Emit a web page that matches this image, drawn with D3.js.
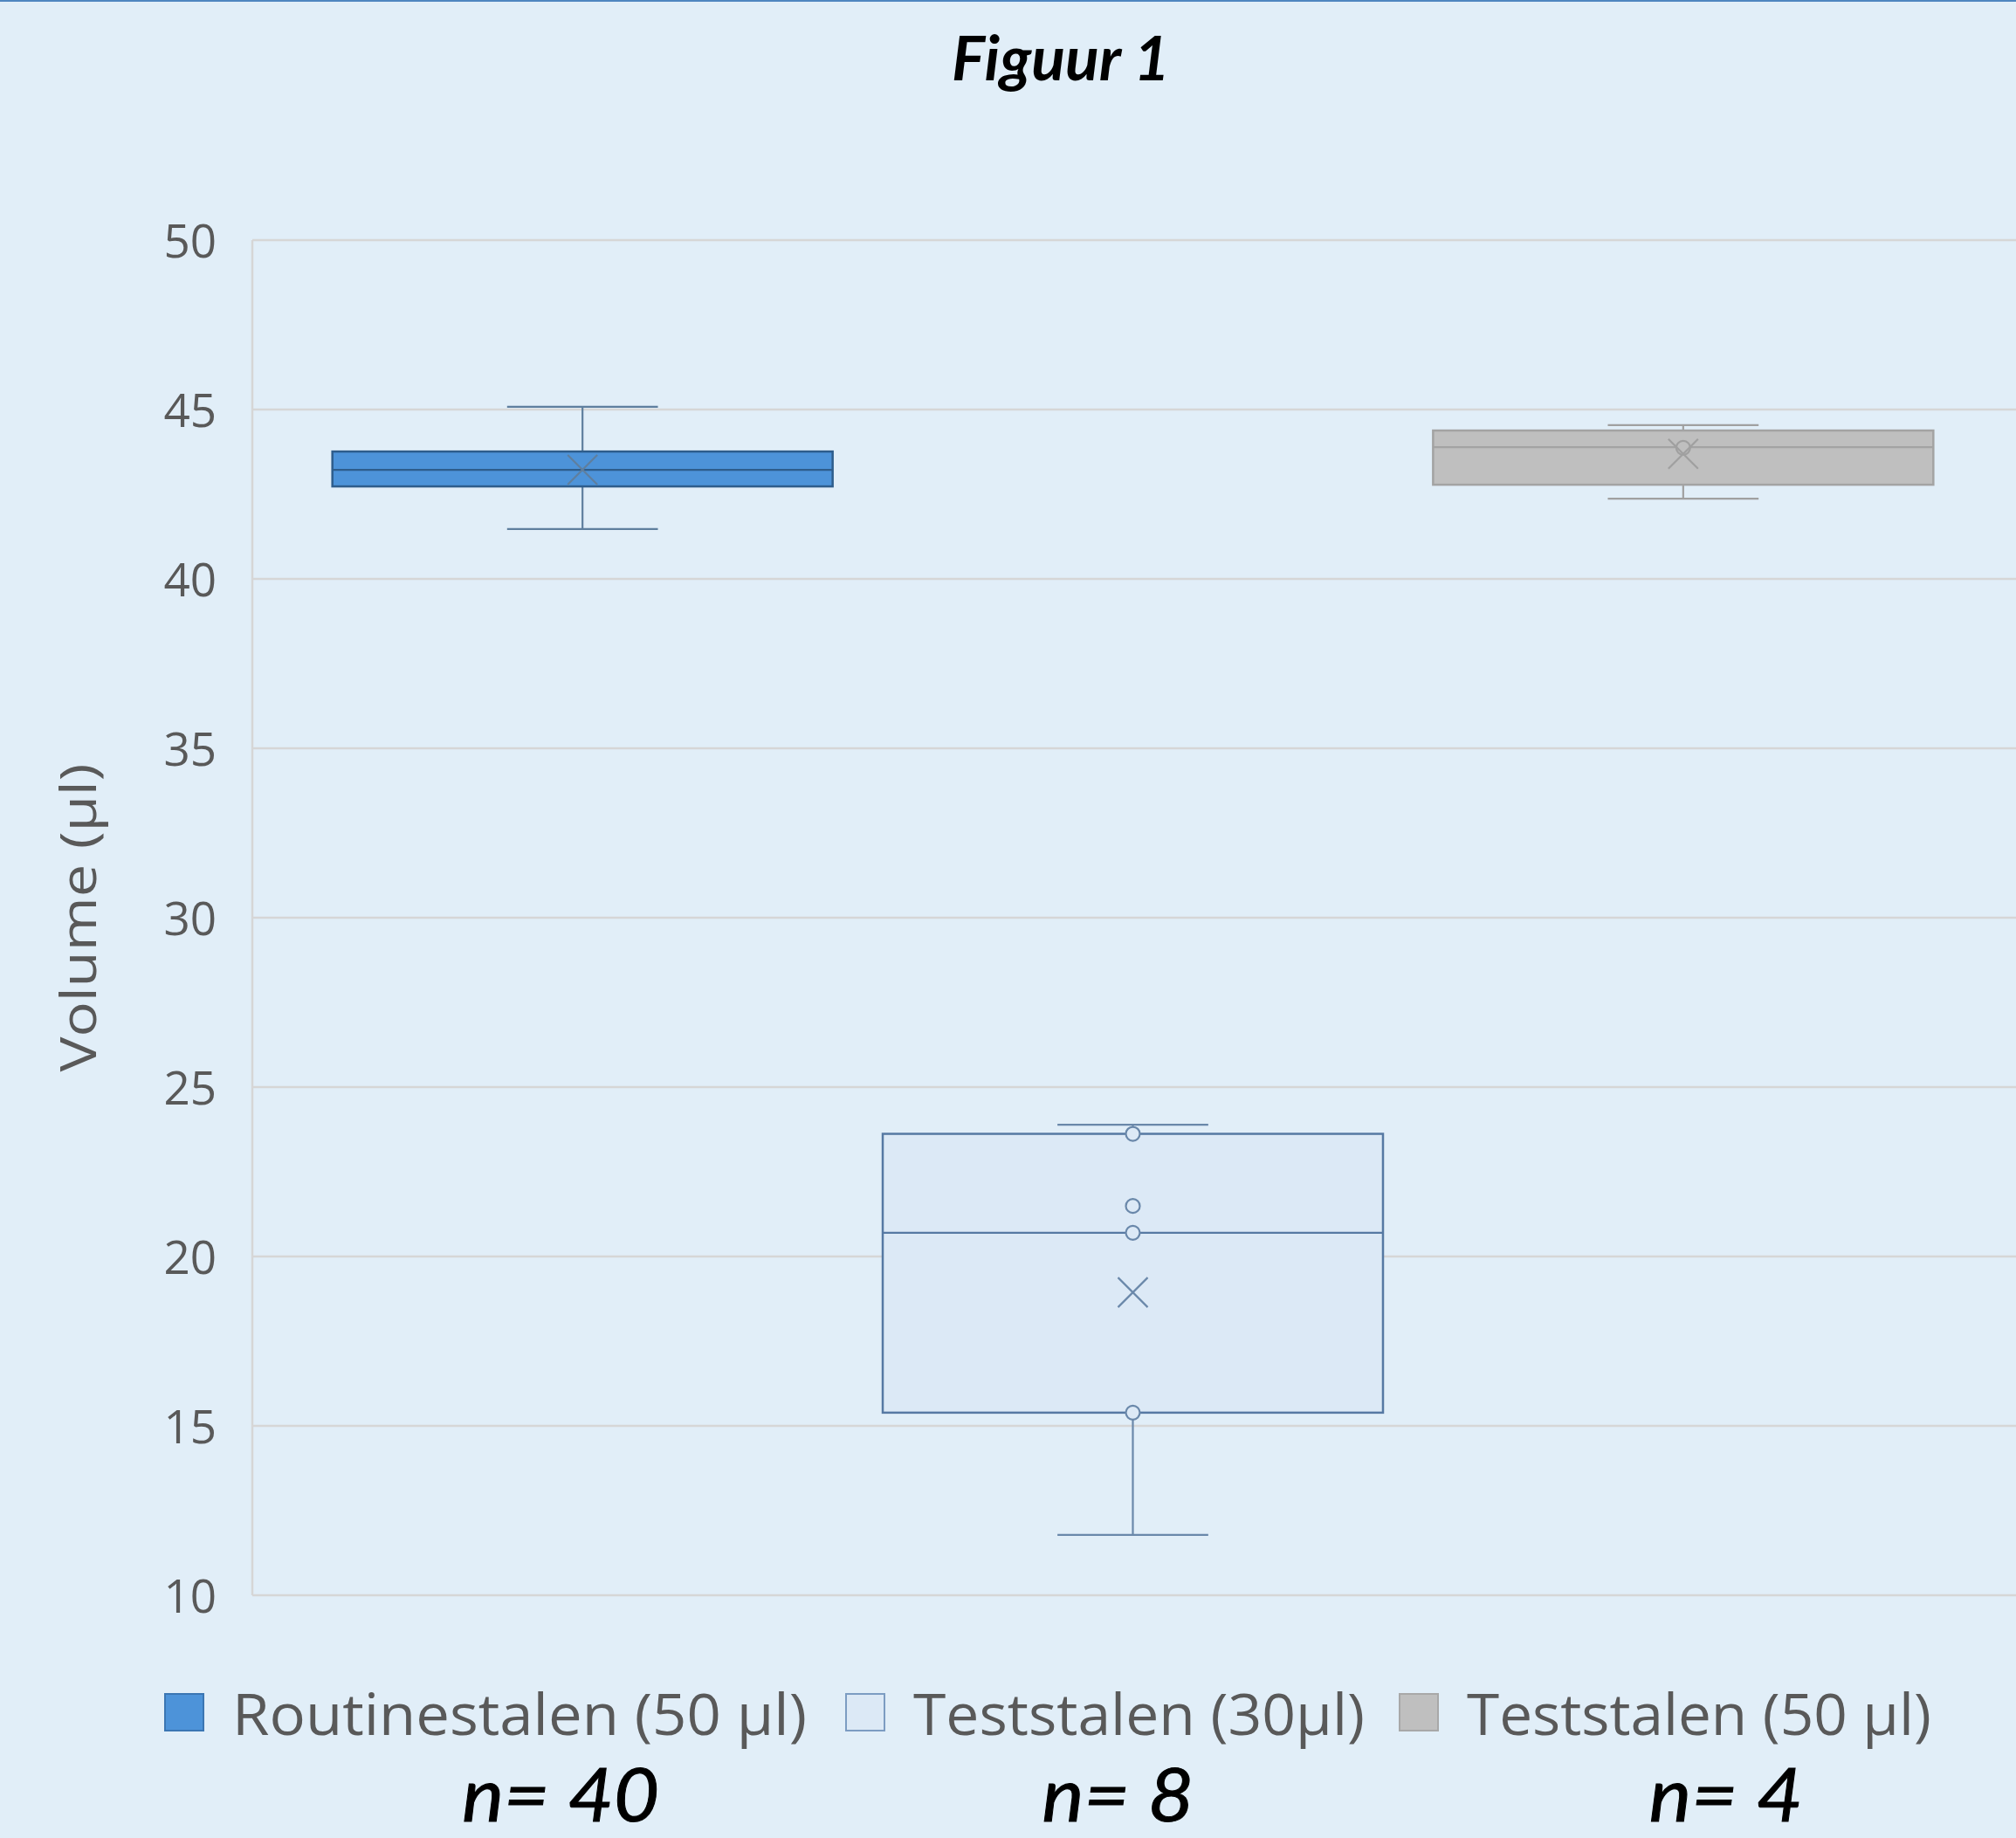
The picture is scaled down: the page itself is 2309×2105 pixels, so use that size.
<!DOCTYPE html>
<html>
<head>
<meta charset="utf-8">
<script src="https://cdn.jsdelivr.net/npm/d3@7"></script>
<style>
  html, body { margin: 0; padding: 0; background: #e1eef8; }
  svg { display: block; }
</style>
</head>
<body>
<script>
// ---- data ----
const categories = ["Routinestalen (50 µl)", "Teststalen (30µl)", "Teststalen (50 µl)"];
const whiskerLow  = [41.47, 11.78, 42.37];
const q1          = [42.73, 15.39, 42.78];
const median      = [43.22, 20.70, 43.89];
const q3          = [43.76, 23.62, 44.38];
const whiskerHigh = [45.08, 23.89, 44.54];
const means       = [43.22, 18.94, 43.69];
const innerPoints = [[], [23.62, 21.49, 20.70, 15.39], [43.87]];
const nLabels     = ["n= 40", "n= 8", "n= 4"];
const yTicks      = [10, 15, 20, 25, 30, 35, 40, 45, 50];
const titleText   = "Figuur 1";
const yAxisTitle  = "Volume (µl)";

// ---- styles ----
const fills   = ["#4d93d9", "#dce9f6", "#bfbfbf"];
const strokes = ["#2e5d8c", "#5679a3", "#a3a3a3"];
const whiskerColors = ["#5f7f9e", "#6a88aa", "#a0a0a0"];
const legendStrokes = ["#3b76b3", "#7c9cc2", "#a8a8a8"];
const nLabelDx = [-25, -17, 49];
const nLabelWidths = [226, 174, 176];
const legendTextWidths = [658, 517, 532];

const W = 2309, H = 2105;
const svg = d3.select("body").append("svg").attr("width", W).attr("height", H);
svg.append("rect").attr("width", W).attr("height", H).attr("fill", "#e1eef8");
svg.append("rect").attr("x", 0).attr("y", 0).attr("width", W).attr("height", 2).attr("fill", "#4f86c0");

const plotLeft = 289, plotRight = W;
const y = d3.scaleLinear().domain([10, 50]).range([1827, 275]);
const x = d3.scaleBand().domain(categories).range([352, 2243]).padding(0);
const boxW = x.bandwidth() * 0.909;
const capW = x.bandwidth() * 0.274;

// title
svg.append("text")
  .attr("x", 1215).attr("y", 92)
  .attr("text-anchor", "middle")
  .attr("font-family", "Lato, 'Open Sans', sans-serif")
  .attr("font-weight", "bold").attr("font-style", "italic")
  .attr("font-size", 70)
  .attr("textLength", 250).attr("lengthAdjust", "spacingAndGlyphs")
  .attr("fill", "#000")
  .text(titleText);

// gridlines
svg.append("g").selectAll("line").data(yTicks).join("line")
  .attr("x1", plotLeft).attr("x2", plotRight)
  .attr("y1", d => y(d)).attr("y2", d => y(d))
  .attr("stroke", "#d6d6d6").attr("stroke-width", 2.5);

// left axis line
svg.append("line")
  .attr("x1", plotLeft).attr("x2", plotLeft)
  .attr("y1", y(50)).attr("y2", y(10))
  .attr("stroke", "#d6d6d6").attr("stroke-width", 2.5);

// y tick labels via axis
const yAxis = d3.axisLeft(y).tickValues(yTicks).tickSize(0).tickPadding(0);
const gAxis = svg.append("g").attr("transform", `translate(248,0)`).call(yAxis);
gAxis.select(".domain").remove();
gAxis.selectAll("text")
  .attr("font-family", "'Open Sans', 'Noto Sans', sans-serif")
  .attr("font-size", 53)
  .attr("fill", "#595959")
  .attr("dy", "0.36em");

// y axis title
svg.append("text")
  .attr("transform", "translate(110,1051) rotate(-90)")
  .attr("text-anchor", "middle")
  .attr("font-family", "'Open Sans', 'Noto Sans', sans-serif")
  .attr("font-size", 56)
  .attr("textLength", 353).attr("lengthAdjust", "spacingAndGlyphs")
  .attr("fill", "#595959")
  .text(yAxisTitle);

// boxes
const idx = d3.range(categories.length);
const g = svg.append("g");
idx.forEach(i => {
  const cx = x(categories[i]) + x.bandwidth() / 2;
  const gi = g.append("g");
  gi.append("line").attr("x1", cx).attr("x2", cx)
    .attr("y1", y(whiskerHigh[i])).attr("y2", y(q3[i]))
    .attr("stroke", whiskerColors[i]).attr("stroke-width", 2.2);
  gi.append("line").attr("x1", cx).attr("x2", cx)
    .attr("y1", y(q1[i])).attr("y2", y(whiskerLow[i]))
    .attr("stroke", whiskerColors[i]).attr("stroke-width", 2.2);
  [whiskerHigh[i], whiskerLow[i]].forEach(v => {
    gi.append("line").attr("x1", cx - capW / 2).attr("x2", cx + capW / 2)
      .attr("y1", y(v)).attr("y2", y(v))
      .attr("stroke", whiskerColors[i]).attr("stroke-width", 2.2);
  });
  gi.append("rect")
    .attr("x", cx - boxW / 2).attr("width", boxW)
    .attr("y", y(q3[i])).attr("height", y(q1[i]) - y(q3[i]))
    .attr("fill", fills[i]).attr("stroke", strokes[i]).attr("stroke-width", 2.5);
  gi.append("line").attr("x1", cx - boxW / 2).attr("x2", cx + boxW / 2)
    .attr("y1", y(median[i])).attr("y2", y(median[i]))
    .attr("stroke", strokes[i]).attr("stroke-width", 2.2);
  gi.selectAll("circle").data(innerPoints[i]).join("circle")
    .attr("cx", cx).attr("cy", d => y(d)).attr("r", 8)
    .attr("fill", fills[i]).attr("stroke", whiskerColors[i]).attr("stroke-width", 2.2);
  const m = y(means[i]), s = 17;
  gi.append("path")
    .attr("d", `M${cx - s},${m - s}L${cx + s},${m + s}M${cx - s},${m + s}L${cx + s},${m - s}`)
    .attr("stroke", whiskerColors[i]).attr("stroke-width", 2.2).attr("fill", "none");
});

// legend
const legendX = [189, 969, 1603];
const legend = svg.append("g");
idx.forEach(i => {
  legend.append("rect")
    .attr("x", legendX[i]).attr("y", 1940).attr("width", 44).attr("height", 42)
    .attr("fill", fills[i]).attr("stroke", legendStrokes[i]).attr("stroke-width", 2);
  legend.append("text")
    .attr("x", legendX[i] + 77).attr("y", 1987)
    .attr("font-family", "'Open Sans', 'Noto Sans', sans-serif")
    .attr("font-size", 65)
    .attr("textLength", legendTextWidths[i]).attr("lengthAdjust", "spacingAndGlyphs")
    .attr("fill", "#595959")
    .text(categories[i]);
});

// n labels
idx.forEach(i => {
  const cx = x(categories[i]) + x.bandwidth() / 2 + nLabelDx[i];
  svg.append("text")
    .attr("x", cx).attr("y", 2086)
    .attr("text-anchor", "middle")
    .attr("font-family", "Lato, 'Open Sans', sans-serif")
    .attr("font-style", "italic").attr("font-weight", "normal")
    .attr("font-size", 86)
    .attr("textLength", nLabelWidths[i]).attr("lengthAdjust", "spacingAndGlyphs")
    .attr("fill", "#000")
    .attr("stroke", "#000").attr("stroke-width", 1)
    .text(nLabels[i]);
});
</script>
</body>
</html>
